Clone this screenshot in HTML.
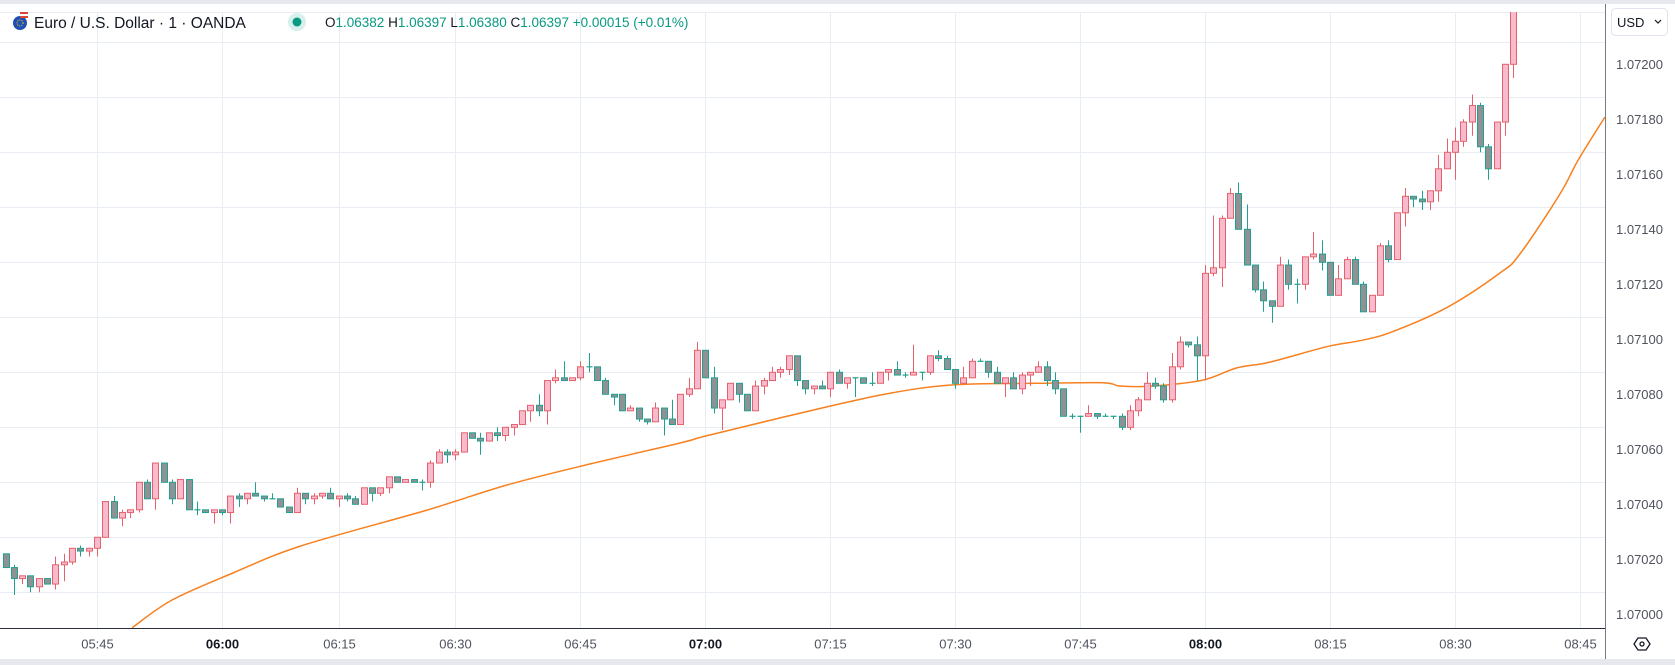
<!DOCTYPE html>
<html><head><meta charset="utf-8"><style>
html,body{margin:0;padding:0;background:#fff;}
body{width:1675px;height:665px;overflow:hidden;position:relative;font-family:"Liberation Sans",sans-serif;}
svg{position:absolute;left:0;top:0;}
</style></head><body>
<svg id="chart" width="1675" height="665" viewBox="0 0 1675 665" xmlns="http://www.w3.org/2000/svg">
<rect x="0" y="0" width="1675" height="4" fill="#e6e8ee"/>
<rect x="0" y="659" width="1675" height="6" fill="#e6e8ee"/>
<g id="grid"></g>
<defs><clipPath id="plotclip"><rect x="0" y="12" width="1605" height="616"/></clipPath></defs>
<g id="plot" clip-path="url(#plotclip)"></g>
<line x1="1605.5" y1="4" x2="1605.5" y2="659" stroke="#787b86" stroke-width="1"/>
<line x1="0" y1="628.5" x2="1605" y2="628.5" stroke="#2a2e39" stroke-width="1"/>
<g id="yaxis"></g>
<g id="xaxis"></g>
<g>
<rect x="1611.5" y="8.5" width="56" height="27" rx="4" fill="#fff" stroke="#e0e3eb"/>
<text x="1617" y="27" font-size="13" fill="#131722" font-family="Liberation Sans, sans-serif">USD</text>
<path d="M1655 20 l3 3 l3 -3" fill="none" stroke="#131722" stroke-width="1.2"/>
</g>
<g>
<path d="M1634 644 l4 -6 h8 l4 6 l-4 6 h-8 z" fill="none" stroke="#131722" stroke-width="1.3"/>
<circle cx="1642" cy="644" r="2" fill="none" stroke="#131722" stroke-width="1.3"/>
</g>
<g>
<g>
<circle cx="20" cy="23" r="7" fill="#1f4fb5"/>
<circle cx="20" cy="23" r="3" fill="none" stroke="#f5d400" stroke-width="1" stroke-dasharray="1 1.2"/>
<rect x="20" y="12" width="8" height="6" fill="#d9443c"/>
<rect x="20" y="14" width="8" height="2" fill="#fff"/>
</g>
<text x="34" y="28" font-size="15.5" fill="#131722">Euro / U.S. Dollar · 1 · OANDA</text>
<circle cx="297" cy="22" r="9" fill="#d7f0ec"/>
<circle cx="297" cy="22" r="4.5" fill="#089981"/>
<text x="325" y="27" font-size="13.5" fill="#089981"><tspan fill="#131722">O</tspan>1.06382 <tspan fill="#131722">H</tspan>1.06397 <tspan fill="#131722">L</tspan>1.06380 <tspan fill="#131722">C</tspan>1.06397 +0.00015 (+0.01%)</text>
</g>
</svg>
<script>
// values in points (0.00001) above PRICE_BASE
const PRICE_BASE = 1.07000;
const open = [14,9,5,6,2,5,3,10,11,16,15,16,20,33,27,29,30,40,34,47,40,34,41,30,30,29,30,29,35,34,36,35,34,34,31,29,36,34,35,36,34,35,34,32,38,36,38,42,40,41,40,40,47,51,50,51,58,56,55,58,57,60,61,66,68,66,77,78,77,78,82,82,77,72,72,66,67,63,62,67,63,61,72,74,88,78,67,70,76,72,66,75,77,80,81,86,77,74,75,74,80,76,78,78,76,76,80,81,79,79,80,80,86,85,81,76,78,84,84,80,76,78,74,79,80,82,77,74,64,64,64,65,64,64,64,60,66,70,76,75,70,82,91,90,86,116,118,136,145,132,119,110,106,104,119,112,112,122,123,120,108,114,121,112,102,108,126,121,138,144,143,142,146,154,160,164,171,177,162,154,171,192];
const high = [14,10,6,6,5,5,13,14,16,17,16,20,33,35,30,30,40,41,47,47,41,41,41,33,30,30,30,35,36,36,40,35,36,34,31,38,36,36,36,38,35,36,35,38,38,38,42,42,41,41,41,48,52,52,52,58,58,58,58,60,60,61,66,68,72,77,81,84,78,84,87,82,78,72,72,68,67,63,69,67,70,72,78,91,88,82,70,76,76,72,77,78,82,82,86,86,77,75,77,80,81,78,78,78,80,80,81,84,80,90,80,86,88,86,81,82,85,85,84,82,78,80,80,80,84,84,80,74,65,64,68,65,65,64,65,68,71,80,78,76,87,93,91,93,119,137,137,147,149,141,119,113,106,122,121,114,122,131,128,120,119,122,122,113,108,127,128,138,147,144,146,146,159,165,169,172,181,178,163,171,192,213];
const low = [9,-1,3,0,0,3,1,4,10,13,13,13,20,27,24,27,29,34,30,40,32,34,30,28,29,25,28,25,31,32,35,33,34,31,29,29,32,32,34,34,31,33,32,32,33,35,36,40,40,40,37,38,47,47,48,51,56,50,55,55,55,57,61,62,64,61,76,77,77,77,80,77,72,68,66,66,62,61,62,57,61,61,71,74,78,65,59,70,69,66,66,72,77,78,79,75,72,72,74,71,76,74,71,76,75,76,77,79,78,79,77,79,84,81,74,76,78,84,78,76,71,74,72,75,80,75,72,64,63,58,64,63,64,63,59,59,64,70,74,69,69,81,89,77,77,115,111,136,132,119,109,102,98,104,110,105,110,121,117,108,108,114,112,102,102,108,120,121,133,140,139,139,142,154,150,162,166,160,150,154,166,187];
const close = [9,5,6,2,5,3,10,11,16,15,16,20,33,27,29,30,40,34,47,40,34,41,30,30,29,30,29,35,34,36,35,34,34,31,29,36,34,35,36,34,35,34,32,38,36,38,42,40,41,40,40,47,51,50,51,58,56,55,58,57,60,61,66,68,66,77,78,77,78,82,82,77,72,71,66,67,63,62,67,63,61,72,74,88,78,67,70,76,72,66,75,77,80,81,86,77,74,75,74,80,76,78,78,76,76,80,81,79,79,80,80,86,85,81,76,78,84,84,80,76,78,74,79,80,82,77,74,64,64,64,65,64,64,64,60,66,70,76,75,70,82,91,90,86,116,118,136,145,132,119,110,106,104,119,112,112,122,123,120,108,114,121,112,102,108,126,121,138,144,143,142,146,154,160,164,171,177,162,154,171,192,212];
// moving average line: bar index positions and values (points)
const emaIdx = [15.2,20,27.3,35.4,50.6,60.2,70.2,81,84,93,105,113.7,123.8,131.8,133.8,137.8,143.8,147.8,151.8,158.6,162.6,166.2,173,179.4,181.8,186.6,188.8,192];
const emaVal = [-12.9,-2.8,7,16.8,29.9,39,46.7,54.3,56.8,63.4,71.7,75.4,76,76.2,75,75,77.2,81.6,83.7,89.3,91.5,94.4,103.5,116.1,123,144.8,157.2,172.8];
const timeTicks = ["05:45","06:00","06:15","06:30","06:45","07:00","07:15","07:30","07:45","08:00","08:15","08:30","08:45"];
const timeTickBars = [11,26,40,54,69,84,99,114,129,144,159,174,189];
const boldTicks = ["06:00","07:00","08:00"];
const priceTicks = [0,20,40,60,80,100,120,140,160,180,200];

const NS="http://www.w3.org/2000/svg";
function X(i){return 5.5+i*8.33;}
function Y(p){return 592.3-p*2.75;}
function mk(tag,attrs,parent){const e=document.createElementNS(NS,tag);for(const k in attrs)e.setAttribute(k,attrs[k]);parent.appendChild(e);return e;}

const grid=document.getElementById('grid');
const plot=document.getElementById('plot');
const yaxis=document.getElementById('yaxis');
const xaxis=document.getElementById('xaxis');

priceTicks.forEach(function(p){
  const y=Math.round(Y(p))+0.5;
  const g=mk('line',{x1:0,x2:1605,y1:y,y2:y,stroke:'#e7edf3','stroke-width':1},grid);
  
  
  const t=mk('text',{x:1616,y:Y(p)+26.5,'font-size':13,fill:'#50535e','font-family':'Liberation Sans, sans-serif'},yaxis);
  t.textContent=(PRICE_BASE+p*1e-5).toFixed(5);
  
  
});
timeTicks.forEach(function(lbl,k){
  const x=Math.round(X(timeTickBars[k]))+0.5;
  const g=mk('line',{x1:x,x2:x,y1:12,y2:628,stroke:'#e7edf3','stroke-width':1},grid);
  
  
  const b=boldTicks.indexOf(lbl)>=0;
  const t=mk('text',{x:x,y:648.5,'font-size':13,'text-anchor':'middle',fill:b?'#131722':'#50535e','font-weight':b?'bold':'normal','font-family':'Liberation Sans, sans-serif'},xaxis);
  t.textContent=lbl;
  
  
});
const gtop=mk('line',{x1:0,x2:1605,y1:12.5,y2:12.5,stroke:'#e7edf3'},grid);



// EMA line (Catmull-Rom smoothing)
const pts=emaIdx.map(function(i,k){return [X(i),Y(emaVal[k])];});
let d='M'+pts[0][0].toFixed(1)+' '+pts[0][1].toFixed(1);
for(let k=0;k<pts.length-1;k++){
  const p0=pts[Math.max(0,k-1)],p1=pts[k],p2=pts[k+1],p3=pts[Math.min(pts.length-1,k+2)];
  const c1=[p1[0]+(p2[0]-p0[0])/6,p1[1]+(p2[1]-p0[1])/6];
  const c2=[p2[0]-(p3[0]-p1[0])/6,p2[1]-(p3[1]-p1[1])/6];
  d+='C'+c1[0].toFixed(1)+' '+c1[1].toFixed(1)+' '+c2[0].toFixed(1)+' '+c2[1].toFixed(1)+' '+p2[0].toFixed(1)+' '+p2[1].toFixed(1);
}
const ema=mk('path',{d:d,fill:'none',stroke:'#f7801f','stroke-width':1.5,'stroke-linejoin':'round'},plot);



// candles
open.forEach(function(o,i){
  const c=close[i],h=high[i],l=low[i];
  const up=c>o;
  const border=up?'#e5616c':'#22a08f';
  const fill=up?'#f8bbcd':'#8f9294';
  const g=mk('g',{},plot);
  
  
  const x=Math.round(X(i))+0.5;
  mk('line',{x1:x,x2:x,y1:Y(h),y2:Y(l),stroke:border,'stroke-width':1},g);
  const top=Math.min(Y(o),Y(c)),bot=Math.max(Y(o),Y(c));
  const hgt=Math.max(1,bot-top);
  if(bot-top<1.5){
    mk('line',{x1:x-3,x2:x+3,y1:top,y2:top,stroke:border,'stroke-width':1.2},g);
  } else {
    mk('rect',{x:x-3,y:top,width:6,height:hgt,fill:fill,stroke:border,'stroke-width':1},g);
  }
});
</script>
</body></html>
